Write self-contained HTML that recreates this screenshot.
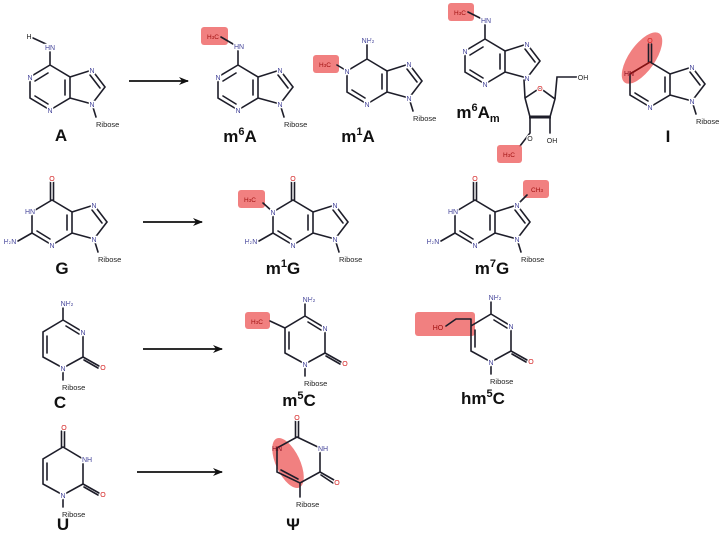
<!DOCTYPE html>
<html><head><meta charset="utf-8">
<style>
html,body{margin:0;padding:0;background:#fff;}
svg{display:block;}
.b{fill:none;stroke:#1e1e2a;stroke-width:1.6;stroke-linecap:round;}
.at{font-family:"Liberation Sans",sans-serif;font-size:7px;fill:#45459a;text-anchor:middle;stroke:#fff;stroke-width:2.5;paint-order:stroke;}
.o{fill:#d42020;}
.r{font-family:"Liberation Sans",sans-serif;font-size:7.5px;fill:#222;}
.lb{font-family:"Liberation Sans",sans-serif;font-size:17px;font-weight:bold;fill:#111;text-anchor:middle;}
.hl{fill:#ee6a6a;opacity:0.85;}
.hb{font-family:"Liberation Sans",sans-serif;font-size:6.5px;fill:#a01010;text-anchor:middle;}
.ar{stroke:#111;stroke-width:1.8;}
</style></head><body>
<svg width="722" height="534" viewBox="0 0 722 534" xmlns="http://www.w3.org/2000/svg">
<defs><marker id="ah" markerWidth="10" markerHeight="8" refX="9" refY="4" orient="auto" markerUnits="userSpaceOnUse"><path d="M0,0L10,4L0,8L3,4Z" fill="#111"/></marker></defs>

<!-- arrows -->
<line class="ar" x1="129" y1="81" x2="188" y2="81" marker-end="url(#ah)"/>
<line class="ar" x1="143" y1="222" x2="202" y2="222" marker-end="url(#ah)"/>
<line class="ar" x1="143" y1="349" x2="222" y2="349" marker-end="url(#ah)"/>
<line class="ar" x1="137" y1="472" x2="222" y2="472" marker-end="url(#ah)"/>

<!-- A -->
<g transform="translate(0,0)">
<path class="b" d="M50,65L30,77L30,98L50,110L70,98L70,77Z M70,77L92,70L105,87L92,104L70,98 M92,104L96,117 M35,81L48,73 M35,96L48,104 M65,95L65,80 M90,75L100,88 M50,65L50,50 M46,44L33,38"/>
<text class="at" x="50" y="50">HN</text><text class="at" x="29" y="39" style="fill:#222">H</text>
<text class="at" x="30" y="80">N</text><text class="at" x="50" y="113">N</text><text class="at" x="92" y="73">N</text><text class="at" x="92" y="107">N</text>
<text class="r" x="96" y="127">Ribose</text>
</g>
<text class="lb" x="61" y="141">A</text>

<!-- m6A -->
<g transform="translate(188,0)">
<rect class="hl" x="13" y="27" width="27" height="18" rx="3"/>
<path class="b" d="M50,65L30,77L30,98L50,110L70,98L70,77Z M70,77L92,70L105,87L92,104L70,98 M92,104L96,117 M35,81L48,73 M35,96L48,104 M65,95L65,80 M90,75L100,88 M50,65L50,50 M45,44L33,37"/>
<text class="hb" x="25" y="39">H<tspan font-size="4.5">3</tspan>C</text>
<text class="at" x="51" y="49">HN</text>
<text class="at" x="30" y="80">N</text><text class="at" x="50" y="113">N</text><text class="at" x="92" y="73">N</text><text class="at" x="92" y="107">N</text>
<text class="r" x="96" y="127">Ribose</text>
</g>
<text class="lb" x="240" y="142">m<tspan font-size="11" dy="-7">6</tspan><tspan dy="7">A</tspan></text>

<!-- m1A -->
<g transform="translate(317,-6)">
<rect class="hl" x="-4" y="61" width="26" height="18" rx="3"/>
<path class="b" d="M50,65L30,77L30,98L50,110L70,98L70,77Z M70,77L92,70L105,87L92,104L70,98 M92,104L96,117 M35,96L48,104 M65,95L65,80 M90,75L100,88 M50,65L50,50 M30,77L20,71"/>
<text class="hb" x="8" y="73">H<tspan font-size="4.5">3</tspan>C</text>
<text class="at" x="51" y="49">NH<tspan font-size="4.5">2</tspan></text>
<text class="at" x="30" y="80">N</text><text class="at" x="50" y="113">N</text><text class="at" x="92" y="73">N</text><text class="at" x="92" y="107">N</text>
<text class="r" x="96" y="127">Ribose</text>
</g>
<text class="lb" x="358" y="142">m<tspan font-size="11" dy="-7">1</tspan><tspan dy="7">A</tspan></text>

<!-- m6Am -->
<g transform="translate(435,-26)">
<rect class="hl" x="13" y="29" width="26" height="18" rx="3"/>
<path class="b" d="M50,65L30,77L30,98L50,110L70,98L70,77Z M70,77L92,70L105,87L92,104L70,98 M35,81L48,73 M35,96L48,104 M65,95L65,80 M90,75L100,88 M50,65L50,50 M45,44L33,38"/>
<text class="hb" x="25" y="41">H<tspan font-size="4.5">3</tspan>C</text>
<text class="at" x="51" y="49">HN</text>
<text class="at" x="30" y="80">N</text><text class="at" x="50" y="113">N</text><text class="at" x="92" y="73">N</text><text class="at" x="92" y="107">N</text>
</g>
<path class="b" d="M524,80L525,98 M525,98L540,88L555,99L550,117L530,117Z M555,99L557,77L577,77 M550,117L550,133 M530,117L530,133 M530,133L520,146"/>
<path d="M529,117L551,117" stroke="#1e1e2a" stroke-width="3"/>
<rect class="hl" x="497" y="145" width="25" height="18" rx="3"/>
<text class="hb" x="509" y="157">H<tspan font-size="4.5">3</tspan>C</text>
<text class="at o" x="540" y="91">O</text>
<text class="at" x="583" y="80" style="fill:#222">OH</text>
<text class="at" x="552" y="143" style="fill:#222">OH</text>
<text class="at" x="530" y="141" style="fill:#222">O</text>
<text class="lb" x="478" y="118">m<tspan font-size="11" dy="-7">6</tspan><tspan dy="7">A</tspan><tspan font-size="11" dy="4">m</tspan></text>

<!-- I -->
<ellipse class="hl" cx="642" cy="58" rx="13" ry="30" transform="rotate(35 642 58)"/>
<g transform="translate(600,-3)">
<path class="b" d="M50,65L30,77L30,98L50,110L70,98L70,77Z M70,77L92,70L105,87L92,104L70,98 M92,104L96,117 M35,96L48,104 M65,95L65,80 M90,75L100,88 M48.5,65L48.5,47 M51.5,65L51.5,47"/>
<path d="M50,65L30,77" stroke="#8a1010" stroke-width="1.6"/>
<text class="at o" x="50" y="46" style="stroke:none">O</text>
<text class="at" x="29" y="79" style="fill:#8a1020;stroke:none">HN</text>
<text class="at" x="50" y="113">N</text><text class="at" x="92" y="73">N</text><text class="at" x="92" y="107">N</text>
<text class="r" x="96" y="127">Ribose</text>
</g>
<text class="lb" x="668" y="142">I</text>

<!-- G -->
<g transform="translate(2,135)">
<path class="b" d="M50,65L30,77L30,98L50,110L70,98L70,77Z M70,77L92,70L105,87L92,104L70,98 M92,104L96,117 M35,96L48,104 M65,95L65,80 M90,75L100,88 M48.5,65L48.5,47 M51.5,65L51.5,47 M30,98L16,106"/>
<text class="at o" x="50" y="46">O</text>
<text class="at" x="28" y="79">HN</text><text class="at" x="8" y="109">H<tspan font-size="4.5">2</tspan>N</text>
<text class="at" x="50" y="113">N</text><text class="at" x="92" y="73">N</text><text class="at" x="92" y="107">N</text>
<text class="r" x="96" y="127">Ribose</text>
</g>
<text class="lb" x="62" y="274">G</text>

<!-- m1G -->
<g transform="translate(243,135)">
<rect class="hl" x="-5" y="55" width="27" height="18" rx="3"/>
<path class="b" d="M50,65L30,77L30,98L50,110L70,98L70,77Z M70,77L92,70L105,87L92,104L70,98 M92,104L96,117 M35,96L48,104 M65,95L65,80 M90,75L100,88 M48.5,65L48.5,47 M51.5,65L51.5,47 M30,98L16,106 M30,77L20,68"/>
<text class="hb" x="7" y="67">H<tspan font-size="4.5">3</tspan>C</text>
<text class="at o" x="50" y="46">O</text>
<text class="at" x="30" y="80">N</text><text class="at" x="8" y="109">H<tspan font-size="4.5">2</tspan>N</text>
<text class="at" x="50" y="113">N</text><text class="at" x="92" y="73">N</text><text class="at" x="92" y="107">N</text>
<text class="r" x="96" y="127">Ribose</text>
</g>
<text class="lb" x="283" y="274">m<tspan font-size="11" dy="-7">1</tspan><tspan dy="7">G</tspan></text>

<!-- m7G -->
<g transform="translate(425,135)">
<rect class="hl" x="98" y="45" width="26" height="18" rx="3"/>
<path class="b" d="M50,65L30,77L30,98L50,110L70,98L70,77Z M70,77L92,70L105,87L92,104L70,98 M92,104L96,117 M35,96L48,104 M65,95L65,80 M90,75L100,88 M48.5,65L48.5,47 M51.5,65L51.5,47 M30,98L16,106 M92,70L102,60"/>
<text class="hb" x="112" y="57">CH<tspan font-size="4.5">3</tspan></text>
<text class="at o" x="50" y="46">O</text>
<text class="at" x="28" y="79">HN</text><text class="at" x="8" y="109">H<tspan font-size="4.5">2</tspan>N</text>
<text class="at" x="50" y="113">N</text><text class="at" x="92" y="73">N</text><text class="at" x="92" y="107">N</text>
<text class="r" x="96" y="127">Ribose</text>
</g>
<text class="lb" x="492" y="274">m<tspan font-size="11" dy="-7">7</tspan><tspan dy="7">G</tspan></text>

<!-- C -->
<g transform="translate(0,0)">
<path class="b" d="M63,320L83,332L83,357L63,368L43,357L43,332Z M66,326L79,334 M47,336L47,353 M63,320L63,308 M63,368L63,380 M83,357L99,366 M84,360L98,368"/>
<text class="at" x="67" y="306">NH<tspan font-size="4.5">2</tspan></text>
<text class="at" x="83" y="335">N</text><text class="at" x="63" y="371">N</text><text class="at o" x="103" y="370">O</text>
<text class="r" x="62" y="390">Ribose</text>
</g>
<text class="lb" x="60" y="408">C</text>

<!-- m5C -->
<g transform="translate(242,-4)">
<rect class="hl" x="3" y="316" width="25" height="17" rx="3"/>
<path class="b" d="M63,320L83,332L83,357L63,368L43,357L43,332Z M66,326L79,334 M47,336L47,353 M63,320L63,308 M63,368L63,380 M83,357L99,366 M84,360L98,368 M43,332L28,325"/>
<text class="hb" x="15" y="328">H<tspan font-size="4.5">3</tspan>C</text>
<text class="at" x="67" y="306">NH<tspan font-size="4.5">2</tspan></text>
<text class="at" x="83" y="335">N</text><text class="at" x="63" y="371">N</text><text class="at o" x="103" y="370">O</text>
<text class="r" x="62" y="390">Ribose</text>
</g>
<text class="lb" x="299" y="406">m<tspan font-size="11" dy="-7">5</tspan><tspan dy="7">C</tspan></text>

<!-- hm5C -->
<g transform="translate(428,-6)">
<rect class="hl" x="-13" y="318" width="60" height="24" rx="3"/>
<path class="b" d="M63,320L83,332L83,357L63,368L43,357L43,332Z M66,326L79,334 M47,336L47,353 M63,320L63,308 M63,368L63,380 M83,357L99,366 M84,360L98,368 M43,332L43,325 M43,325L28,325 M28,325L18,332"/>
<text class="hb" x="10" y="336" style="font-size:7px">HO</text>
<text class="at" x="67" y="306">NH<tspan font-size="4.5">2</tspan></text>
<text class="at" x="83" y="335">N</text><text class="at" x="63" y="371">N</text><text class="at o" x="103" y="370">O</text>
<text class="r" x="62" y="390">Ribose</text>
</g>
<text class="lb" x="483" y="404">hm<tspan font-size="11" dy="-7">5</tspan><tspan dy="7">C</tspan></text>

<!-- U -->
<g transform="translate(0,127)">
<path class="b" d="M63,320L83,332L83,357L63,368L43,357L43,332Z M47,336L47,353 M61.5,320L61.5,304 M64.5,320L64.5,304 M63,368L63,380 M83,357L99,366 M84,360L98,368"/>
<text class="at o" x="64" y="303">O</text>
<text class="at" x="87" y="335">NH</text><text class="at" x="63" y="371">N</text><text class="at o" x="103" y="370">O</text>
<text class="r" x="62" y="390">Ribose</text>
</g>
<text class="lb" x="63" y="530">U</text>

<!-- Psi -->
<ellipse class="hl" cx="288" cy="463" rx="12" ry="27" transform="rotate(-25 288 463)"/>
<path class="b" d="M297,437L320,448L320,472L300,483L277,472L277,448Z M281,470L298,479 M295.5,437L295.5,421 M298.5,437L298.5,421 M300,483L300,497 M320,472L334,480 M321,475L333,483"/>
<text class="at o" x="297" y="420">O</text>
<text class="at" x="323" y="451">NH</text>
<text class="at" x="277" y="451" style="fill:#8a1020;stroke:none">HN</text>
<text class="at o" x="337" y="485">O</text>
<text class="r" x="296" y="507">Ribose</text>
<text class="lb" x="293" y="530">Ψ</text>
</svg>
</body></html>
